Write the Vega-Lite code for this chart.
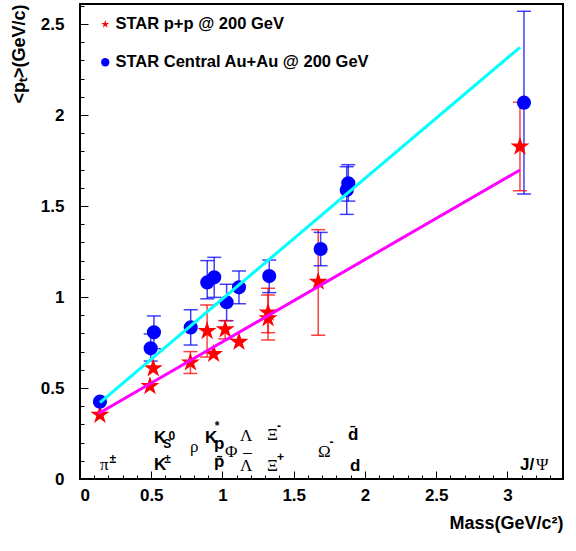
{
  "$schema": "https://vega.github.io/schema/vega-lite/v6.json",
  "width": 483,
  "height": 475,
  "autosize": "none",
  "padding": {"left": 80, "top": 4, "right": 13, "bottom": 72},
  "background": "white",
  "config": {
    "view": {"stroke": "black", "strokeWidth": 2},
    "font": "Liberation Sans",
    "axis": {
      "grid": false, "domain": false,
      "labelFont": "Liberation Sans", "labelFontWeight": "bold", "labelFontSize": 17, "labelColor": "black",
      "tickColor": "black", "tickWidth": 1,
      "titleFont": "Liberation Sans", "titleFontWeight": "bold", "titleFontSize": 18, "titleColor": "black"
    },
    "legend": {
      "labelFont": "Liberation Sans", "labelFontWeight": "bold", "labelFontSize": 16.5, "labelColor": "black", "labelLimit": 400
    }
  },
  "datasets": {
    "points": [
      {"series": "STAR p+p @ 200 GeV", "particle": "pi", "m": 0.14, "pt": 0.352, "lo": null, "hi": null},
      {"series": "STAR p+p @ 200 GeV", "particle": "K", "m": 0.491, "pt": 0.51, "lo": null, "hi": null},
      {"series": "STAR p+p @ 200 GeV", "particle": "K0s", "m": 0.514, "pt": 0.608, "lo": null, "hi": null},
      {"series": "STAR p+p @ 200 GeV", "particle": "rho", "m": 0.775, "pt": 0.64, "lo": 0.58, "hi": 0.70},
      {"series": "STAR p+p @ 200 GeV", "particle": "K*", "m": 0.892, "pt": 0.813, "lo": 0.67, "hi": 0.956},
      {"series": "STAR p+p @ 200 GeV", "particle": "p", "m": 0.938, "pt": 0.687, "lo": null, "hi": null},
      {"series": "STAR p+p @ 200 GeV", "particle": "phi", "m": 1.019, "pt": 0.822, "lo": 0.77, "hi": 0.87},
      {"series": "STAR p+p @ 200 GeV", "particle": "Lambda", "m": 1.116, "pt": 0.753, "lo": null, "hi": null},
      {"series": "STAR p+p @ 200 GeV", "particle": "Xi-", "m": 1.32, "pt": 0.914, "lo": 0.804, "hi": 1.048},
      {"series": "STAR p+p @ 200 GeV", "particle": "Xi+", "m": 1.32, "pt": 0.883, "lo": 0.764, "hi": 1.011},
      {"series": "STAR p+p @ 200 GeV", "particle": "Omega", "m": 1.672, "pt": 1.084, "lo": 0.79, "hi": 1.37},
      {"series": "STAR p+p @ 200 GeV", "particle": "J/psi", "m": 3.088, "pt": 1.826, "lo": 1.584, "hi": 2.07},
      {"series": "STAR Central Au+Au @ 200 GeV", "particle": "pi", "m": 0.14, "pt": 0.425, "lo": null, "hi": null},
      {"series": "STAR Central Au+Au @ 200 GeV", "particle": "K", "m": 0.496, "pt": 0.718, "lo": 0.648, "hi": 0.797},
      {"series": "STAR Central Au+Au @ 200 GeV", "particle": "K0s", "m": 0.519, "pt": 0.806, "lo": 0.716, "hi": 0.896},
      {"series": "STAR Central Au+Au @ 200 GeV", "particle": "rho", "m": 0.777, "pt": 0.833, "lo": 0.736, "hi": 0.93},
      {"series": "STAR Central Au+Au @ 200 GeV", "particle": "K*", "m": 0.893, "pt": 1.08, "lo": 0.99, "hi": 1.20},
      {"series": "STAR Central Au+Au @ 200 GeV", "particle": "p", "m": 0.942, "pt": 1.108, "lo": 0.998, "hi": 1.218},
      {"series": "STAR Central Au+Au @ 200 GeV", "particle": "phi", "m": 1.029, "pt": 0.971, "lo": 0.87, "hi": 1.07},
      {"series": "STAR Central Au+Au @ 200 GeV", "particle": "Lambda", "m": 1.116, "pt": 1.053, "lo": 0.963, "hi": 1.143},
      {"series": "STAR Central Au+Au @ 200 GeV", "particle": "Xi", "m": 1.328, "pt": 1.115, "lo": 1.024, "hi": 1.203},
      {"series": "STAR Central Au+Au @ 200 GeV", "particle": "Omega", "m": 1.689, "pt": 1.264, "lo": 1.172, "hi": 1.355},
      {"series": "STAR Central Au+Au @ 200 GeV", "particle": "dbar", "m": 1.872, "pt": 1.588, "lo": 1.454, "hi": 1.716},
      {"series": "STAR Central Au+Au @ 200 GeV", "particle": "d", "m": 1.883, "pt": 1.625, "lo": 1.527, "hi": 1.727},
      {"series": "STAR Central Au+Au @ 200 GeV", "particle": "J/psi", "m": 3.116, "pt": 2.068, "lo": 1.566, "hi": 2.57}
    ],
    "lines": [
      {"fit": "pp", "m": 0.13, "pt": 0.36},
      {"fit": "pp", "m": 3.088, "pt": 1.698},
      {"fit": "AuAu", "m": 0.14, "pt": 0.42},
      {"fit": "AuAu", "m": 3.088, "pt": 2.372}
    ],
    "boldLabels": [
      {"label": "K", "m": 0.519, "pt": 0.049},
      {"label": "K", "m": 0.519, "pt": 0.198},
      {"label": "K", "m": 0.877, "pt": 0.198},
      {"label": "p", "m": 0.94, "pt": 0.165},
      {"label": "p̄", "m": 0.94, "pt": 0.066},
      {"label": "d̄", "m": 1.881, "pt": 0.214},
      {"label": "d", "m": 1.895, "pt": 0.044},
      {"label": "J/", "m": 3.088, "pt": 0.049}
    ],
    "greekLabels": [
      {"label": "π", "m": 0.14, "pt": 0.049},
      {"label": "ρ", "m": 0.772, "pt": 0.148},
      {"label": "Φ", "m": 1.018, "pt": 0.121},
      {"label": "Λ", "m": 1.123, "pt": 0.209},
      {"label": "Λ", "m": 1.123, "pt": 0.044},
      {"label": "¯", "m": 1.146, "pt": 0.07},
      {"label": "Ξ", "m": 1.312, "pt": 0.214},
      {"label": "Ξ", "m": 1.312, "pt": 0.044},
      {"label": "Ω", "m": 1.67, "pt": 0.121},
      {"label": "Ψ", "m": 3.2, "pt": 0.049}
    ],
    "scriptLabels": [
      {"label": "±", "m": 0.207, "pt": 0.09},
      {"label": "±", "m": 0.592, "pt": 0.09},
      {"label": "S", "m": 0.584, "pt": 0.168},
      {"label": "0", "m": 0.622, "pt": 0.212},
      {"label": "*", "m": 0.945, "pt": 0.268},
      {"label": "-", "m": 1.382, "pt": 0.27},
      {"label": "+", "m": 1.382, "pt": 0.097},
      {"label": "-", "m": 1.752, "pt": 0.182}
    ]
  },
  "layer": [
    {
      "data": {"name": "lines"},
      "mark": {"type": "point", "opacity": 0},
      "encoding": {
        "x": {"field": "m", "type": "quantitative", "scale": {"domain": [0, 3.39], "nice": false, "zero": false},
          "axis": {"orient": "bottom", "values": [0,0.1,0.2,0.3,0.4,0.5,0.6,0.7,0.8,0.9,1,1.1,1.2,1.3,1.4,1.5,1.6,1.7,1.8,1.9,2,2.1,2.2,2.3,2.4,2.5,2.6,2.7,2.8,2.9,3,3.1,3.2,3.3], "labels": false, "tickSize": -4, "title": null}},
        "y": {"field": "pt", "type": "quantitative", "scale": {"domain": [0, 2.61], "nice": false, "zero": false},
          "axis": {"orient": "left", "values": [0,0.1,0.2,0.3,0.4,0.5,0.6,0.7,0.8,0.9,1,1.1,1.2,1.3,1.4,1.5,1.6,1.7,1.8,1.9,2,2.1,2.2,2.3,2.4,2.5,2.6], "labels": false, "tickSize": -4, "title": null}}
      }
    },
    {
      "data": {"name": "points"},
      "mark": {"type": "rule", "strokeWidth": 1.5, "opacity": 0.75},
      "encoding": {
        "x": {"field": "m", "type": "quantitative", "scale": {"domain": [0, 3.39], "nice": false, "zero": false},
          "axis": {"orient": "bottom", "values": [0,0.5,1,1.5,2,2.5,3], "format": "~g", "tickSize": -8, "labelPadding": 16,
            "title": "Mass(GeV/c²)", "titleAnchor": "end", "titleAlign": "right", "titleX": 483, "titleY": 49, "titleBaseline": "alphabetic"}},
        "y": {"field": "lo", "type": "quantitative", "scale": {"domain": [0, 2.61], "nice": false, "zero": false},
          "axis": {"orient": "left", "values": [0,0.5,1,1.5,2,2.5], "format": "~g", "tickSize": -8, "labelPadding": 24,
            "title": "<pₜ>(GeV/c)", "titleAnchor": "end", "titleAlign": "right", "titleAngle": -90, "titleX": -61, "titleY": 0, "titleBaseline": "middle"}},
        "y2": {"field": "hi"},
        "color": {"condition": {"test": "datum.series === 'STAR p+p @ 200 GeV'", "value": "#ff0000"}, "value": "#0000ff"}
      }
    },
    {
      "data": {"name": "points"},
      "mark": {"type": "tick", "orient": "horizontal", "thickness": 1.5, "size": 14, "opacity": 0.75},
      "encoding": {
        "x": {"field": "m", "type": "quantitative", "scale": {"domain": [0, 3.39], "nice": false, "zero": false}, "axis": null},
        "y": {"field": "lo", "type": "quantitative", "scale": {"domain": [0, 2.61], "nice": false, "zero": false}, "axis": null},
        "color": {"condition": {"test": "datum.series === 'STAR p+p @ 200 GeV'", "value": "#ff0000"}, "value": "#0000ff"}
      }
    },
    {
      "data": {"name": "points"},
      "mark": {"type": "tick", "orient": "horizontal", "thickness": 1.5, "size": 14, "opacity": 0.75},
      "encoding": {
        "x": {"field": "m", "type": "quantitative", "scale": {"domain": [0, 3.39], "nice": false, "zero": false}, "axis": null},
        "y": {"field": "hi", "type": "quantitative", "scale": {"domain": [0, 2.61], "nice": false, "zero": false}, "axis": null},
        "color": {"condition": {"test": "datum.series === 'STAR p+p @ 200 GeV'", "value": "#ff0000"}, "value": "#0000ff"}
      }
    },
    {
      "data": {"name": "points"},
      "mark": {"type": "point", "filled": true, "opacity": 1, "strokeWidth": 0},
      "encoding": {
        "x": {"field": "m", "type": "quantitative", "scale": {"domain": [0, 3.39], "nice": false, "zero": false}, "axis": null},
        "y": {"field": "pt", "type": "quantitative", "scale": {"domain": [0, 2.61], "nice": false, "zero": false}, "axis": null},
        "color": {"field": "series", "type": "nominal",
          "scale": {"domain": ["STAR p+p @ 200 GeV", "STAR Central Au+Au @ 200 GeV"], "range": ["#ff0000", "#0000ff"]},
          "legend": {"title": null, "orient": "none", "legendX": 17, "legendY": 12, "padding": 0,
            "symbolSize": 70, "rowPadding": 21, "labelOffset": 2, "symbolStrokeWidth": 0}},
        "shape": {"field": "series", "type": "nominal",
          "scale": {"domain": ["STAR p+p @ 200 GeV", "STAR Central Au+Au @ 200 GeV"], "range": ["M0,-1L0.2245,-0.309L0.951,-0.309L0.363,0.118L0.588,0.809L0,0.382L-0.588,0.809L-0.363,0.118L-0.951,-0.309L-0.2245,-0.309Z", "circle"]},
          "legend": {"title": null, "orient": "none", "legendX": 17, "legendY": 12, "padding": 0,
            "symbolSize": 70, "rowPadding": 21, "labelOffset": 2, "symbolStrokeWidth": 0}},
        "size": {"condition": {"test": "datum.series === 'STAR p+p @ 200 GeV'", "value": 400}, "value": 200}
      }
    },
    {
      "data": {"name": "lines"},
      "mark": {"type": "line", "strokeWidth": 3},
      "encoding": {
        "x": {"field": "m", "type": "quantitative", "scale": {"domain": [0, 3.39], "nice": false, "zero": false}, "axis": null},
        "y": {"field": "pt", "type": "quantitative", "scale": {"domain": [0, 2.61], "nice": false, "zero": false}, "axis": null},
        "stroke": {"field": "fit", "type": "nominal", "scale": {"domain": ["pp", "AuAu"], "range": ["#ff00ff", "#00ffff"]}, "legend": null}
      }
    },
    {
      "data": {"name": "boldLabels"},
      "mark": {"type": "text", "align": "left", "baseline": "alphabetic", "font": "Liberation Sans", "fontWeight": "bold", "fontSize": 17, "color": "black"},
      "encoding": {
        "x": {"field": "m", "type": "quantitative", "scale": {"domain": [0, 3.39], "nice": false, "zero": false}, "axis": null},
        "y": {"field": "pt", "type": "quantitative", "scale": {"domain": [0, 2.61], "nice": false, "zero": false}, "axis": null},
        "text": {"field": "label"}
      }
    },
    {
      "data": {"name": "greekLabels"},
      "mark": {"type": "text", "align": "left", "baseline": "alphabetic", "font": "Liberation Serif", "fontSize": 17, "color": "black"},
      "encoding": {
        "x": {"field": "m", "type": "quantitative", "scale": {"domain": [0, 3.39], "nice": false, "zero": false}, "axis": null},
        "y": {"field": "pt", "type": "quantitative", "scale": {"domain": [0, 2.61], "nice": false, "zero": false}, "axis": null},
        "text": {"field": "label"}
      }
    },
    {
      "data": {"name": "scriptLabels"},
      "mark": {"type": "text", "align": "left", "baseline": "alphabetic", "font": "Liberation Sans", "fontWeight": "bold", "fontSize": 12, "color": "black"},
      "encoding": {
        "x": {"field": "m", "type": "quantitative", "scale": {"domain": [0, 3.39], "nice": false, "zero": false}, "axis": null},
        "y": {"field": "pt", "type": "quantitative", "scale": {"domain": [0, 2.61], "nice": false, "zero": false}, "axis": null},
        "text": {"field": "label"}
      }
    }
  ],
  "resolve": {"axis": {"x": "independent", "y": "independent"}}
}
